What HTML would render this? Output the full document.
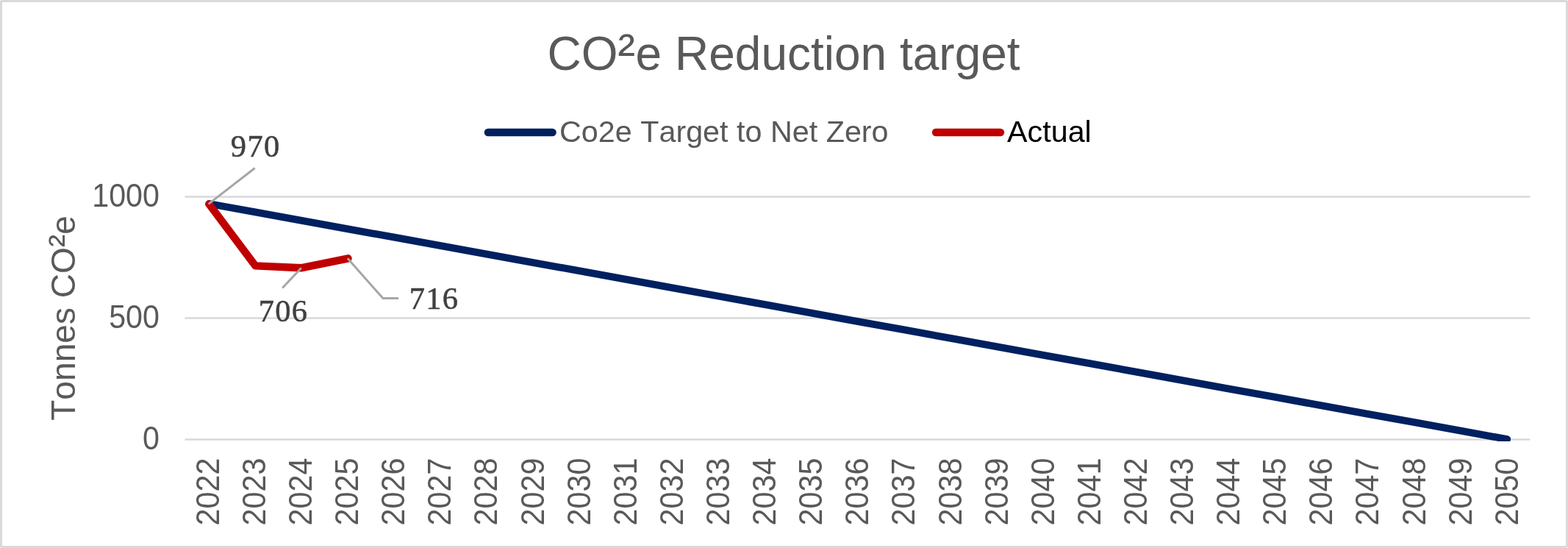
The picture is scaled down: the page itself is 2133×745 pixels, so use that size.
<!DOCTYPE html>
<html lang="en">
<head>
<meta charset="utf-8">
<title>CO²e Reduction target</title>
<style>
html,body{margin:0;padding:0;background:#ffffff;}
body{width:2133px;height:745px;overflow:hidden;}
svg{display:block;}
text{font-kerning:none;}
</style>
</head>
<body>
<svg width="2133" height="745" viewBox="0 0 2133 745">
<rect x="1.5" y="1.5" width="2130" height="742" rx="1" fill="#ffffff" stroke="#d9d9d9" stroke-width="3"/>
<line x1="251.5" x2="2081.5" y1="597.50" y2="597.50" stroke="#d9d9d9" stroke-width="2.67"/>
<line x1="251.5" x2="2081.5" y1="432.50" y2="432.50" stroke="#d9d9d9" stroke-width="2.67"/>
<line x1="251.5" x2="2081.5" y1="267.50" y2="267.50" stroke="#d9d9d9" stroke-width="2.67"/>
<clipPath id="plot"><rect x="0" y="0" width="2133" height="600"/></clipPath>
<polyline clip-path="url(#plot)" points="284.35,277.00 347.42,288.43 410.48,299.86 473.55,311.30 536.61,322.73 599.67,334.16 662.74,345.59 725.81,357.03 788.87,368.46 851.94,379.89 915.00,391.32 978.06,402.75 1041.13,414.19 1104.20,425.62 1167.26,437.05 1230.32,448.48 1293.39,459.91 1356.45,471.35 1419.52,482.78 1482.59,494.21 1545.65,505.64 1608.72,517.08 1671.78,528.51 1734.84,539.94 1797.91,551.37 1860.97,562.80 1924.04,574.24 1987.11,585.67 2050.17,597.10" fill="none" stroke="#002060" stroke-width="9.9" stroke-linecap="round" stroke-linejoin="round"/>
<polyline points="284.35,277.40 347.42,361.40 410.48,364.20 473.55,351.30" fill="none" stroke="#c00000" stroke-width="10.4" stroke-linecap="round" stroke-linejoin="round"/>
<polyline points="283.6,277.4 346.7,228.5" fill="none" stroke="#a6a6a6" stroke-width="3"/>
<polyline points="409.8,364.2 384.2,391.6" fill="none" stroke="#a6a6a6" stroke-width="3"/>
<polyline points="472.9,351.3 521,405.6 542,405.6" fill="none" stroke="#a6a6a6" stroke-width="3"/>
<text x="347.7" y="213" text-anchor="middle" font-family="'Liberation Serif', 'DejaVu Serif', serif" font-size="42.5" letter-spacing="1.3" fill="#404040" stroke="#404040" stroke-width="0.5">970</text>
<text x="385.6" y="437.1" text-anchor="middle" font-family="'Liberation Serif', 'DejaVu Serif', serif" font-size="42.5" letter-spacing="1.3" fill="#404040" stroke="#404040" stroke-width="0.5">706</text>
<text x="590.6" y="420.3" text-anchor="middle" font-family="'Liberation Serif', 'DejaVu Serif', serif" font-size="42.5" letter-spacing="1.3" fill="#404040" stroke="#404040" stroke-width="0.5">716</text>
<text transform="translate(217,610.7) scale(0.9165,1)" text-anchor="end" font-family="'Liberation Sans', Arial, sans-serif" font-size="45.0" fill="#595959">0</text>
<text transform="translate(217,445.7) scale(0.9165,1)" text-anchor="end" font-family="'Liberation Sans', Arial, sans-serif" font-size="45.0" fill="#595959">500</text>
<text transform="translate(217,280.7) scale(0.9165,1)" text-anchor="end" font-family="'Liberation Sans', Arial, sans-serif" font-size="45.0" fill="#595959">1000</text>
<text transform="translate(297.85,714.4) rotate(-90) scale(0.929,1)" font-family="'Liberation Sans', Arial, sans-serif" font-size="44.4" fill="#595959">2022</text>
<text transform="translate(360.96,714.4) rotate(-90) scale(0.929,1)" font-family="'Liberation Sans', Arial, sans-serif" font-size="44.4" fill="#595959">2023</text>
<text transform="translate(424.06,714.4) rotate(-90) scale(0.929,1)" font-family="'Liberation Sans', Arial, sans-serif" font-size="44.4" fill="#595959">2024</text>
<text transform="translate(487.16,714.4) rotate(-90) scale(0.929,1)" font-family="'Liberation Sans', Arial, sans-serif" font-size="44.4" fill="#595959">2025</text>
<text transform="translate(550.27,714.4) rotate(-90) scale(0.929,1)" font-family="'Liberation Sans', Arial, sans-serif" font-size="44.4" fill="#595959">2026</text>
<text transform="translate(613.37,714.4) rotate(-90) scale(0.929,1)" font-family="'Liberation Sans', Arial, sans-serif" font-size="44.4" fill="#595959">2027</text>
<text transform="translate(676.47,714.4) rotate(-90) scale(0.929,1)" font-family="'Liberation Sans', Arial, sans-serif" font-size="44.4" fill="#595959">2028</text>
<text transform="translate(739.58,714.4) rotate(-90) scale(0.929,1)" font-family="'Liberation Sans', Arial, sans-serif" font-size="44.4" fill="#595959">2029</text>
<text transform="translate(802.68,714.4) rotate(-90) scale(0.929,1)" font-family="'Liberation Sans', Arial, sans-serif" font-size="44.4" fill="#595959">2030</text>
<text transform="translate(865.78,714.4) rotate(-90) scale(0.929,1)" font-family="'Liberation Sans', Arial, sans-serif" font-size="44.4" fill="#595959">2031</text>
<text transform="translate(928.89,714.4) rotate(-90) scale(0.929,1)" font-family="'Liberation Sans', Arial, sans-serif" font-size="44.4" fill="#595959">2032</text>
<text transform="translate(991.99,714.4) rotate(-90) scale(0.929,1)" font-family="'Liberation Sans', Arial, sans-serif" font-size="44.4" fill="#595959">2033</text>
<text transform="translate(1055.09,714.4) rotate(-90) scale(0.929,1)" font-family="'Liberation Sans', Arial, sans-serif" font-size="44.4" fill="#595959">2034</text>
<text transform="translate(1118.20,714.4) rotate(-90) scale(0.929,1)" font-family="'Liberation Sans', Arial, sans-serif" font-size="44.4" fill="#595959">2035</text>
<text transform="translate(1181.30,714.4) rotate(-90) scale(0.929,1)" font-family="'Liberation Sans', Arial, sans-serif" font-size="44.4" fill="#595959">2036</text>
<text transform="translate(1244.40,714.4) rotate(-90) scale(0.929,1)" font-family="'Liberation Sans', Arial, sans-serif" font-size="44.4" fill="#595959">2037</text>
<text transform="translate(1307.51,714.4) rotate(-90) scale(0.929,1)" font-family="'Liberation Sans', Arial, sans-serif" font-size="44.4" fill="#595959">2038</text>
<text transform="translate(1370.61,714.4) rotate(-90) scale(0.929,1)" font-family="'Liberation Sans', Arial, sans-serif" font-size="44.4" fill="#595959">2039</text>
<text transform="translate(1433.71,714.4) rotate(-90) scale(0.929,1)" font-family="'Liberation Sans', Arial, sans-serif" font-size="44.4" fill="#595959">2040</text>
<text transform="translate(1496.82,714.4) rotate(-90) scale(0.929,1)" font-family="'Liberation Sans', Arial, sans-serif" font-size="44.4" fill="#595959">2041</text>
<text transform="translate(1559.92,714.4) rotate(-90) scale(0.929,1)" font-family="'Liberation Sans', Arial, sans-serif" font-size="44.4" fill="#595959">2042</text>
<text transform="translate(1623.02,714.4) rotate(-90) scale(0.929,1)" font-family="'Liberation Sans', Arial, sans-serif" font-size="44.4" fill="#595959">2043</text>
<text transform="translate(1686.13,714.4) rotate(-90) scale(0.929,1)" font-family="'Liberation Sans', Arial, sans-serif" font-size="44.4" fill="#595959">2044</text>
<text transform="translate(1749.23,714.4) rotate(-90) scale(0.929,1)" font-family="'Liberation Sans', Arial, sans-serif" font-size="44.4" fill="#595959">2045</text>
<text transform="translate(1812.33,714.4) rotate(-90) scale(0.929,1)" font-family="'Liberation Sans', Arial, sans-serif" font-size="44.4" fill="#595959">2046</text>
<text transform="translate(1875.44,714.4) rotate(-90) scale(0.929,1)" font-family="'Liberation Sans', Arial, sans-serif" font-size="44.4" fill="#595959">2047</text>
<text transform="translate(1938.54,714.4) rotate(-90) scale(0.929,1)" font-family="'Liberation Sans', Arial, sans-serif" font-size="44.4" fill="#595959">2048</text>
<text transform="translate(2001.64,714.4) rotate(-90) scale(0.929,1)" font-family="'Liberation Sans', Arial, sans-serif" font-size="44.4" fill="#595959">2049</text>
<text transform="translate(2064.75,714.4) rotate(-90) scale(0.929,1)" font-family="'Liberation Sans', Arial, sans-serif" font-size="44.4" fill="#595959">2050</text>
<text transform="translate(101.8,571.8) rotate(-90)" font-family="'Liberation Sans', Arial, sans-serif" font-size="46.1" fill="#595959">Tonnes CO<tspan font-size="52" dy="0.6">²</tspan><tspan dy="-0.6">e</tspan></text>
<text x="744.5" y="95.0" font-family="'Liberation Sans', Arial, sans-serif" font-size="64" fill="#595959">CO<tspan font-size="71.5" dy="0.85" dx="-0.3">²</tspan><tspan dy="-0.85" dx="0.6">e Reduction target</tspan></text>
<line x1="664" x2="751.5" y1="180" y2="180" stroke="#002060" stroke-width="10.67" stroke-linecap="round"/>
<text x="761" y="192.8" font-family="'Liberation Sans', Arial, sans-serif" font-size="41.3" fill="#595959">Co2e Target to Net Zero</text>
<line x1="1273.2" x2="1360.9" y1="180" y2="180" stroke="#c00000" stroke-width="10.67" stroke-linecap="round"/>
<text x="1370" y="192.8" font-family="'Liberation Sans', Arial, sans-serif" font-size="41.3" fill="#000000">Actual</text>
</svg>
</body>
</html>
